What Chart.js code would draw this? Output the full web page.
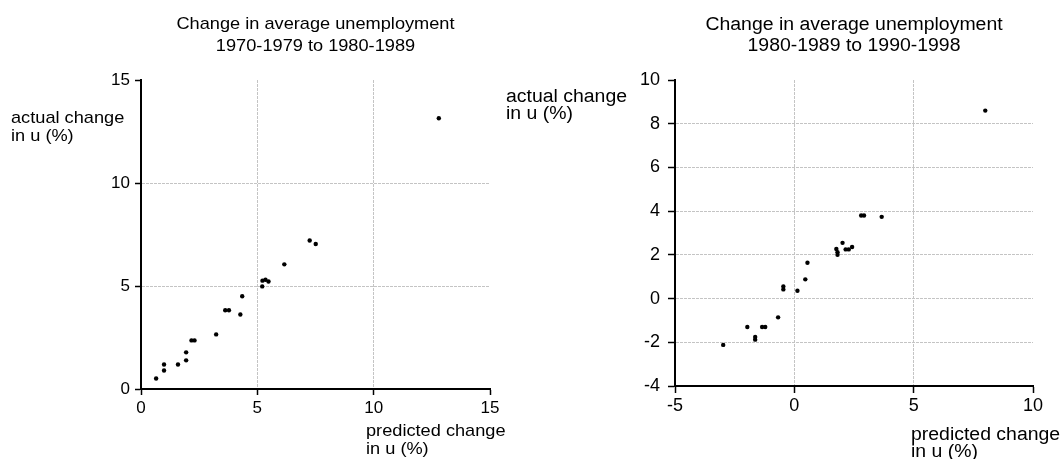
<!DOCTYPE html>
<html>
<head>
<meta charset="utf-8">
<script src="https://cdn.jsdelivr.net/npm/chart.js@4"></script>
<style>
  body { margin: 0; background: #fff; }
  canvas { position: absolute; top: 0; }
  #left { left: 0; }
  #right { left: 495px; }
</style>
</head>
<body>
<canvas id="left" width="530" height="459"></canvas>
<canvas id="right" width="567" height="459"></canvas>
<script>
// 1970-79 -> 1980-89
const predicted7080 = [0.65, 0.99, 0.99, 1.59, 1.94, 1.94, 2.17, 2.30, 3.23, 3.62, 3.78, 4.27, 4.35, 5.21, 5.22, 5.35, 5.48, 6.16, 7.25, 7.51, 12.8];
const actual7080    = [0.51, 0.90, 1.19, 1.19, 1.39, 1.78, 2.36, 2.36, 2.65, 3.82, 3.82, 3.62, 4.50, 4.98, 5.26, 5.30, 5.22, 6.05, 7.21, 7.04, 13.14];
// 1980-89 -> 1990-98
const predicted8090 = [8.0, 2.80, 2.92, 3.66, 2.02, 1.76, 1.81, 1.81, 2.15, 2.28, 2.42, 0.55, 0.46, -0.46, -0.46, 0.13, -0.68, -1.97, -1.35, -1.22, -1.64, -1.64, -2.98];
const actual8090    = [8.6, 3.80, 3.80, 3.74, 2.55, 2.27, 2.00, 2.12, 2.25, 2.25, 2.36, 1.64, 0.88, 0.42, 0.55, 0.36, -0.86, -1.30, -1.30, -1.30, -1.76, -1.88, -2.12];

const title7080 = ['Change in average unemployment', '1970-1979 to 1980-1989'];
const title8090 = ['Change in average unemployment', '1980-1989 to 1990-1998'];
const yLabel = ['actual change', 'in u (%)'];
const xLabel = ['predicted change', 'in u (%)'];

const FONT = '"Liberation Sans", Arial, sans-serif';

// titles and axis labels sit at fixed spots like the original (text is a bit wide there)
const textPlugin = {
  id: 'texts',
  afterDraw(chart, args, o) {
    const ctx = chart.ctx, a = chart.chartArea;
    const put = (t, x, y, align) => {
      ctx.save();
      ctx.translate(x, y);
      ctx.scale(o.stretch, 1);
      ctx.textAlign = align;
      ctx.fillText(t, 0, 0);
      ctx.restore();
    };
    ctx.save();
    ctx.fillStyle = '#000';
    ctx.font = o.size + 'px ' + FONT;
    ctx.textBaseline = 'alphabetic';
    const cx = (a.left + a.right) / 2;
    o.title.forEach((t, i) => put(t, cx, o.titleY[i], 'center'));
    o.yLabel.forEach((t, i) => put(t, o.yLabelX, o.yLabelY[i], 'left'));
    o.xLabel.forEach((t, i) => put(t, o.xLabelX, o.xLabelY[i], 'left'));
    ctx.restore();
  }
};

const scaleOpts = (min, max, step, yw, xh, tl, pad, fontSize, isY) => ({
  type: 'linear',
  min: min, max: max,
  afterFit: s => { if (isY) s.width = yw; else s.height = xh; },
  ticks: { stepSize: step, color: '#000', padding: pad, font: { family: FONT, size: fontSize } },
  grid: {
    color: c => (c.tick && (c.tick.value === min || c.tick.value === max)) ? 'rgba(0,0,0,0)' : '#c4c4c4',
    lineWidth: 1,
    tickColor: '#000',
    tickLength: tl,
    tickWidth: 1.5
  },
  border: { display: true, color: '#000', width: 2, dash: [3, 1] }
});

const makeChart = (id, xs, ys, xr, yr, layout, texts, tl, ypad, xpad, fs) => new Chart(document.getElementById(id), {
  type: 'scatter',
  data: {
    datasets: [{
      data: xs.map((x, i) => ({ x: x, y: ys[i] })),
      backgroundColor: '#000',
      borderWidth: 0,
      pointRadius: 2.2
    }]
  },
  options: {
    responsive: false,
    animation: false,
    layout: { padding: layout },
    plugins: { legend: { display: false }, tooltip: { enabled: false }, texts: texts },
    scales: {
      x: scaleOpts(xr[0], xr[1], xr[2], 0, 45, tl, xpad, fs, false),
      y: scaleOpts(yr[0], yr[1], yr[2], 50, 0, tl, ypad, fs, true)
    }
  },
  plugins: [textPlugin]
});

makeChart('left', predicted7080, actual7080, [0, 15, 5], [0, 15, 5],
  { left: 91, right: 40, top: 80, bottom: 25 },
  { size: 17, stretch: 1.07, title: title7080, titleY: [29, 50.5],
    yLabel: yLabel, yLabelX: 11, yLabelY: [123, 140.5],
    xLabel: xLabel, xLabelX: 366, xLabelY: [436, 454] },
  6, 5, 3, 17);

makeChart('right', predicted8090, actual8090, [-5, 10, 5], [-4, 10, 2],
  { left: 130, right: 29, top: 80, bottom: 28 },
  { size: 18, stretch: 1.08, title: title8090, titleY: [30, 51],
    yLabel: yLabel, yLabelX: 11, yLabelY: [102, 119],
    xLabel: xLabel, xLabelX: 416, xLabelY: [440, 457] },
  7, 8, 2, 18);
</script>
</body>
</html>
